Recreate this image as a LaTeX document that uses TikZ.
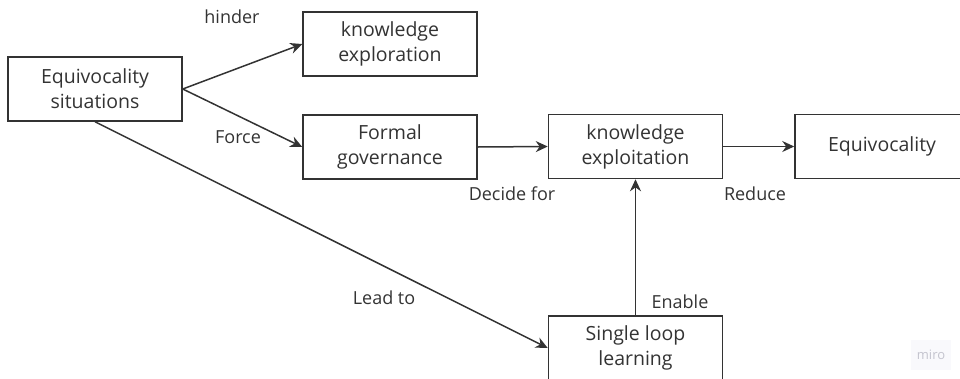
\documentclass[tikz,border=0pt]{standalone}
\usepackage{fontspec}
\setmainfont{Open Sans}
\usetikzlibrary{arrows.meta}
\definecolor{ink}{HTML}{333333}
\definecolor{wmtext}{HTML}{C4C4CE}
\definecolor{wmback}{HTML}{F9F9FC}
\begin{document}
\begin{tikzpicture}[x=1pt,y=-1pt,
  box/.style={draw=ink,line width=1.5pt,minimum width=174pt,minimum height=64pt,
    inner sep=0pt,align=center,text=ink,font=\fontsize{19.5}{25}\selectfont},
  lbl/.style={text=ink,inner sep=0pt,font=\fontsize{18}{20}\selectfont},
  link/.style={draw=ink,line width=1.5pt,-{Stealth[length=12pt,width=11pt]}}]
  \useasboundingbox (0,0) rectangle (960,378);
  % boxes
  \node[box] (sit) at (95,89) {Equivocality\\situations};
  \node[box] (explor) at (390,44) {knowledge\\exploration};
  \node[box] (formal) at (390,147) {Formal\\governance};
  \node[box] (exploit) at (635.5,146.5) {knowledge\\exploitation};
  \node[box] (equiv) at (882,146.5) {Equivocality};
  \node[box] (single) at (635.5,348) {Single loop\\learning};
  % connectors
  \draw[link] (sit.east) -- (explor.west);
  \draw[link] (sit.east) -- (formal.west);
  \draw[link] (formal.east) -- (exploit.west);
  \draw[link] (exploit.east) -- (equiv.west);
  \draw[link] (single.north) -- (exploit.south);
  \draw[link] (sit.south) -- (single.west);
  % connector labels
  \node[lbl] (lhinder) at (232,17) {hinder};
  \node[lbl] (lforce) at (238,137) {Force};
  \node[lbl] (ldecide) at (512,194) {Decide for};
  \node[lbl] (lreduce) at (755,194) {Reduce};
  \node[lbl] (lenable) at (680,302) {Enable};
  \node[lbl] (llead) at (384,298) {Lead to};
  % watermark
  \node[fill=wmback,text=wmtext,minimum width=40pt,minimum height=30pt,inner sep=0pt,
    font=\fontsize{13}{14}\selectfont] (wm) at (931,355) {miro};
\end{tikzpicture}
\end{document}
